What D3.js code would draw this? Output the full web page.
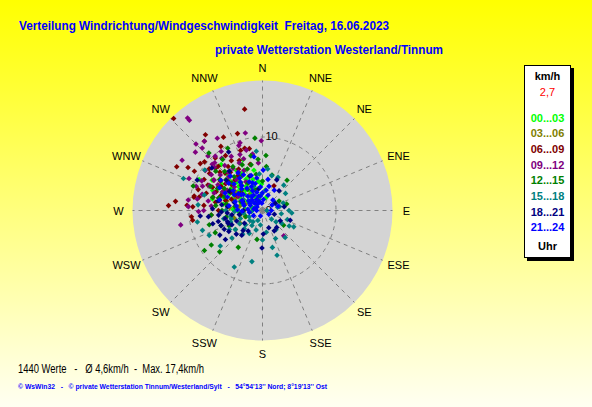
<!DOCTYPE html>
<html lang="de">
<head>
<meta charset="UTF-8">
<title>Windrichtung/Windgeschwindigkeit</title>
<script src="https://cdn.jsdelivr.net/npm/d3@7"></script>
<style>
  body { margin: 0; padding: 0; }
  svg { display: block; font-family: Arial, "Liberation Sans", sans-serif; }
</style>
</head>
<body>
<svg id="chart" width="592" height="407"></svg>
<script>
// --- data: [direction in degrees, speed in km/h] per 3-hour block ---
var directions = ["N","NNE","NE","ENE","E","ESE","SE","SSE","S","SSW","SW","WSW","W","WNW","NW","NNW"];
var periods = ["00...03","03...06","06...09","09...12","12...15","15...18","18...21","21...24"];
var ringValues = [0, 10];

var p00_03 = [[296,9.6],[289,5.6],[339,7.4],
  [285,1.5],[288,3.0],[291,4.4],[294,6.0],[292,7.3],
  [300,1.0],[302,2.4],[304,3.8],[306,5.2],[303,6.6],[301,8.0],
  [311,1.8],[313,3.2],[315,4.6],[312,6.0],[316,7.0],
  [322,1.2],[324,2.6],[326,4.0],[323,5.4],[327,6.5],
  [333,2.0],[335,3.4],[332,4.8],[336,6.0],
  [344,1.6],[346,3.0],[343,4.4],[348,5.6],
  [356,2.2],[358,3.6],[8,2.8],[15,1.8],
  [276,2.4],[272,4.0],[279,5.4],[266,3.2],[283,7.0],[318,8.4],
  [298,3.4],[308,4.2],[318,5.2],[328,3.0],[338,5.0],[309,2.0],[297,5.0],[320,3.6],[330,5.8],[352,4.0]];
var p03_06 = [[300,3],[310,3.5],[290,2.5],[320,2.8],[280,3.2],[270,2.5],[260,3],[250,2.5],[335,3],[305,4.5],[295,4],
  [285,5],[315,2],[275,4.5],[240,3.5],[255,4]];
var p06_09 = [[316,17.4],[350,14],[323,12.9],[342,11],[297,13.1],[300,11.7],[281,9.5],[273,12.8],[276,11.9],[265,9.7],
  [262,9.6],[25,3.7],[320,12.3],[332,11.3],[307,10.6],[300,10.7],[310,10.3],[312,8.6],[327,10.4],[274,10.3],[282,9.5],
  [273,9.5],[282,8.8],[344,8.8],[348,8.6],[340,8.7],
  [300,6.5],[305,7],[295,7.5],[310,6],[315,7.2],[320,6.8],[290,6],[285,7],[300,5],[310,5.5],[325,5.8],[330,6.5],
  [335,7.5],[280,6.5],[275,8],[295,8.2],[305,8.8],[315,8.5],[300,4],[290,4.5],[320,4.5],[310,3.8],[285,5.2],[270,6],
  [265,7],[340,5],[345,6.5],[298,9],[288,9.2],[318,9.6],
  [292,6.8],[302,7.8],[312,7.8],[322,7.6],[328,8.0],[296,5.8],[306,6.2],[318,5.6],[283,6.0],[287,8.0],[308,9.2],[326,9.0]];
var p09_12 = [[321,16.2],[321,15.8],[320,12.3],[347.5,10.8],[315,12.8],[302,12.9],[293.5,10.9],[273,10.1],[260,11.3],
  [140,4.5],[328,11.6],[311,12.1],[316,11.8],[315,10.5],[312.6,9.3],[319,9.8],[359,9.5],[341.6,9.7],[278,10.2],[269,8.7],
  [300,7],[310,7.5],[320,8],[305,8.5],[295,8],[315,6.5],[325,7],[330,8.5],[290,7],[285,8.5],[280,7.5],[335,6],
  [340,7.5],[300,5.5],[310,5],[320,5.5],[295,6],[345,8.5],[350,7.8],[355,6.5],[275,7],[270,8],[305,9.5],[315,9.2],
  [325,9.8],[290,9.6],[280,9],[340,9.4],[330,4.5],[300,3.8],
  [298,6.8],[308,6.2],[318,7.0],[328,6.2],[302,7.8],[312,8.8],[322,9.0],[292,8.8],[334,7.2],[338,8.2],[286,6.2],[296,9.2]];
var p12_15 = [[354,9.9],[317,10.7],[289.5,10],[236,8.4],[226,8.1],[235.4,9.6],[190.8,4],[124.9,3.5],[39,5.3],[3.6,7.5],
  [348,7.6],[244.9,7.1],[213.3,6],[330.8,9.7],[60,2.6],[75,3.4],
  [300,6],[310,6.5],[320,6],[330,5.5],[340,6],[350,5],[290,5.5],[280,5],[270,5.5],[260,5],[250,6],[300,4.5],[315,4],
  [325,3.5],[340,3],[355,7],[5,6],[15,5],[285,7],[295,7.8],[310,8.3],[322,8.8],[265,7],[255,7.5],[245,5],[235,4.5],
  [0,4],[305,2.2],[318,1.4],[292,3.2],[278,3.8],[262,3.0],[250,2.4],[335,1.6],
  [296,6.8],[306,7.2],[316,7.4],[326,7.2],[336,6.8],[302,5.2],[312,5.6],[322,4.8],[332,4.2],[286,6.2],[276,6.4],[346,6.4]];
var p15_18 = [[292,11.6],[251.7,8.6],[206.5,8.6],[191.7,7.1],[162,6.4],[117.6,4.8],[90,3.6],[53.4,3.9],[354,8.1],
  [78,2.1],[77,2.4],[123.7,3.1],[133.7,1.7],[90,0.6],[7.1,5.7],[14.8,4.9],
  [205,1.5],[215,2.5],[225,3.5],[235,4.5],[245,2.0],[250,3.2],[255,4.4],[262,2.6],[268,3.8],[232,2.2],[220,4.2],
  [210,3.6],[198,2.8],[188,2.0],[240,5.2],[258,5.4],[228,5.6],[270,5.0],
  [100,2.6],[110,3.6],[130,2.4],[145,3.2],[155,4.2],[170,3.0],[120,4.2],[95,4.0],[70,3.0],[60,2.0],[140,4.8],
  [180,4.0],[165,5.2],[40,4.5],[25,5.0],
  [300,3.0],[320,2.5],[340,3.5],[355,5],[285,8.2],[275,8.8],[305,9.6],[230,7.5],[245,8],[260,9],
  [240,3.6],[250,4.6],[260,4.4],[230,3.0],[220,2.0],[265,1.5]];
var p18_21 = [[180.8,5.1],[178,3.2],[150,3.2],[109.4,4],[107.8,1.7],[220,4.4],[215,3.4],[234.9,3],[240,6.7],[243.8,5.8],
  [265,8.5],[263.5,7.4],[264,6],[249.5,5],
  [245,4.6],[250,6.0],[255,7.0],[258,5.2],[262,4.2],[268,5.6],[272,6.8],[276,4.8],[282,6.2],[238,5.4],[232,6.4],
  [228,4.8],[224,3.8],[260,3.2],[270,2.6],[286,4.0],[295,3.0],[300,5.2],[310,6.4],
  [80,3],[60,2],[120,2.8],[140,3],[160,2.5],[40,3.5],[25,4.6],
  [320,7],[340,5],[350,3],[310,9],[330,9.2],[295,9.8],
  [252,5.0],[266,4.8],[278,5.6],[248,3.8],[256,6.2]];
var p21_24 = [[282,1.2],[285,2.6],[288,3.9],[291,5.1],[284,6.0],
  [293,1.8],[296,3.1],[299,4.4],[295,5.6],[298,6.6],
  [303,0.9],[305,2.3],[307,3.6],[304,4.8],[309,5.9],[306,7.0],
  [312,1.5],[314,2.8],[316,4.1],[313,5.3],[317,6.4],
  [321,1.1],[323,2.4],[325,3.7],[322,4.9],[327,6.1],
  [331,1.7],[333,3.0],[335,4.3],[332,5.5],
  [341,1.3],[343,2.6],[345,3.8],[342,5.0],
  [352,2.0],[355,3.2],[350,4.5],
  [5,1.5],[10,2.8],[20,2.2],
  [275,2.0],[272,3.4],[278,4.6],[268,2.8],[262,1.8],
  [60,1.5],[75,2.2],[90,1.2],[120,1.0],[200,0.8],[240,1.4],
  [351,7.4],[1,5.5],[270,0.8],[10,4.3],[30,3.2],[45,2.0],
  [300,2.0],[310,3.4],[320,4.4],[330,2.4],[340,4.0],[315,2.0],[305,4.0],[325,5.4],[335,3.6],[345,2.0],[290,2.8],
  [280,3.6],[0,2.4],[355,1.0],[15,3.4]];
var series = [p00_03, p03_06, p06_09, p09_12, p12_15, p15_18, p18_21, p21_24];

// --- styles ---
var periodColors = ["#00ff00","#808000","#800000","#800080","#008000","#008080","#000080","#0000ff"];
var cx = 262.5, cy = 210.5, outerR = 130;

var svg = d3.select("#chart");
var defs = svg.append("defs");
var grad = defs.append("linearGradient").attr("id","bg").attr("x1",0).attr("y1",0).attr("x2",0).attr("y2",1);
grad.append("stop").attr("offset","0%").attr("stop-color","#ffff00");
grad.append("stop").attr("offset","100%").attr("stop-color","#fffff2");
svg.append("rect").attr("width",592).attr("height",407).attr("fill","url(#bg)");

// titles
svg.append("text").attr("x",19).attr("y",30)
  .attr("fill","#0000ff").attr("font-weight","bold").attr("font-size",13.5)
  .attr("textLength",370).attr("lengthAdjust","spacingAndGlyphs")
  .style("white-space","pre")
  .text("Verteilung Windrichtung/Windgeschwindigkeit  Freitag, 16.06.2023");
svg.append("text").attr("x",215).attr("y",54)
  .attr("fill","#0000ff").attr("font-weight","bold").attr("font-size",13.5)
  .attr("textLength",228).attr("lengthAdjust","spacingAndGlyphs")
  .text("private Wetterstation Westerland/Tinnum");

// scales
var rScale = d3.scaleLinear().domain([0,10]).range([0,73.5]);
var aScale = d3.scaleLinear().domain([0,360]).range([0,2*Math.PI]);
function px(d){ return cx + rScale(d[1]) * Math.sin(aScale(d[0])); }
function py(d){ return cy - rScale(d[1]) * Math.cos(aScale(d[0])); }

var g = svg.append("g");
g.append("circle").attr("cx",cx).attr("cy",cy).attr("r",outerR).attr("fill","#d4d4d4");

// spokes
g.selectAll("line.spoke").data(directions).enter().append("line")
  .attr("class","spoke")
  .attr("x1",cx).attr("y1",cy)
  .attr("x2",(d,i) => cx + outerR*Math.sin(aScale(i*22.5)))
  .attr("y2",(d,i) => cy - outerR*Math.cos(aScale(i*22.5)))
  .attr("stroke","#808080").attr("stroke-width",1).attr("stroke-dasharray","4,4");

// ring at 10
g.selectAll("circle.ring").data(ringValues.filter(v => v > 0)).enter().append("circle")
  .attr("class","ring").attr("cx",cx).attr("cy",cy).attr("r",d => rScale(d))
  .attr("fill","none").attr("stroke","#808080").attr("stroke-width",1).attr("stroke-dasharray","4,4");

g.selectAll("text.ringlab").data(ringValues).enter().append("text")
  .attr("class","ringlab")
  .attr("x",cx+3).attr("y",d => cy - rScale(d) + 3)
  .attr("font-size",11).attr("fill","#000")
  .text(d => d);

// direction labels
g.selectAll("text.dir").data(directions).enter().append("text")
  .attr("class","dir")
  .attr("x",(d,i) => cx + 144*Math.sin(aScale(i*22.5)) + 3*Math.sign(Math.round(Math.sin(aScale(i*22.5))*100)) * (d.length > 2 ? 1 : 0))
  .attr("y",(d,i) => cy - 143*Math.cos(aScale(i*22.5)))
  .attr("text-anchor","middle").attr("dominant-baseline","central")
  .attr("font-size",11).attr("fill","#000")
  .text(d => d);

// points, drawn in time order
var diamond = "M0,-2.8L2.8,0L0,2.8L-2.8,0Z";
series.forEach(function(pts, k){
  g.append("g").selectAll("path").data(pts).enter().append("path")
    .attr("d",diamond)
    .attr("transform",d => "translate(" + px(d) + "," + py(d) + ")")
    .attr("fill",periodColors[k]);
});

// legend
var lg = svg.append("g");
lg.append("rect").attr("x",527).attr("y",68).attr("width",47).attr("height",193).attr("fill","#000");
lg.append("rect").attr("x",524.5).attr("y",65.5).attr("width",46).attr("height",192)
  .attr("fill","#fff").attr("stroke","#000").attr("stroke-width",1);
lg.append("text").attr("x",547.5).attr("y",80).attr("text-anchor","middle")
  .attr("font-size",11).attr("font-weight","bold").text("km/h");
lg.append("text").attr("x",547.5).attr("y",95.5).attr("text-anchor","middle")
  .attr("font-size",11).attr("fill","#ff0000").text("2,7");
lg.selectAll("text.per").data(periods).enter().append("text")
  .attr("class","per")
  .attr("x",547.5).attr("y",(d,i) => 121.5 + i*15.7)
  .attr("text-anchor","middle").attr("font-size",11).attr("font-weight","bold")
  .attr("fill",(d,i) => periodColors[i])
  .text(d => d);
lg.append("text").attr("x",547.5).attr("y",250).attr("text-anchor","middle")
  .attr("font-size",11).attr("font-weight","bold").text("Uhr");

// footer
svg.append("text").attr("x",18).attr("y",373).attr("font-size",12).attr("fill","#000")
  .attr("textLength",186).attr("lengthAdjust","spacingAndGlyphs")
  .style("white-space","pre")
  .text("1440 Werte   -   Ø 4,6km/h  -  Max. 17,4km/h");
svg.append("text").attr("x",18).attr("y",389).attr("font-size",7.5).attr("fill","#0000ff")
  .attr("font-weight","bold").style("white-space","pre")
  .attr("textLength",309).attr("lengthAdjust","spacingAndGlyphs")
  .text("© WsWin32   -   © private Wetterstation Tinnum/Westerland/Sylt   -   54°54'13'' Nord; 8°19'13'' Ost");
</script>
</body>
</html>
